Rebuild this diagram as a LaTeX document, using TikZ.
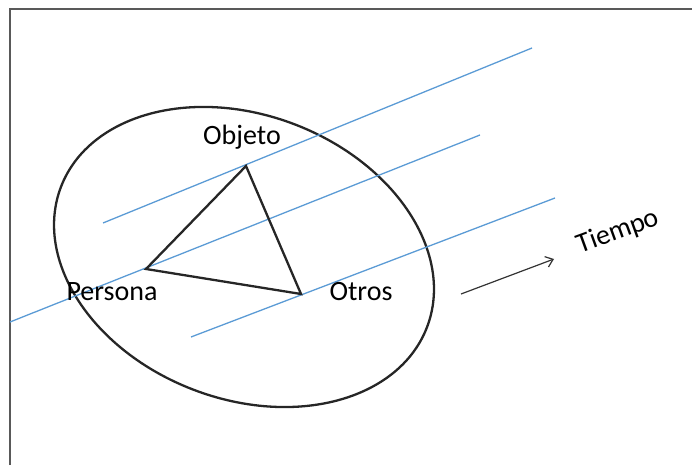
\documentclass[tikz,border=0pt]{standalone}
\usepackage{fontspec}
\setmainfont{Carlito}
\usetikzlibrary{arrows.meta,positioning}
\definecolor{lineblue}{RGB}{91,155,213}

\begin{document}
\begin{tikzpicture}[
  x=1pt, y=1pt,
  >={Straight Barb[length=7pt,width=11pt]},
  timeline/.style={draw=lineblue, line width=1.3pt},
  side/.style={draw=black!85, line width=2.3pt},
  every node/.style={font=\fontsize{28}{32}\selectfont, inner sep=0pt}
]
\useasboundingbox (0,0) rectangle (692,465);
\draw[black!65, line width=1.6pt] (10,0) -- (10,456) -- (692,456);

% circle of the situation
\draw[side] (244,208) ellipse [x radius=196, y radius=142, rotate=-21];

% time lines
\coordinate (a1) at (103,242);  \coordinate (b1) at (532,417);
\coordinate (a2) at (10,143);   \coordinate (b2) at (480,330);
\coordinate (a3) at (191,128);  \coordinate (b3) at (555,267);
\draw[timeline] (a1) -- (b1);
\draw[timeline] (a2) -- (b2);
\draw[timeline] (a3) -- (b3);

% triangle
\coordinate (objeto)  at (246,299);
\coordinate (persona) at (146,196);
\coordinate (otros)   at (301,171);
\draw[side, line join=miter] (objeto) -- (persona) -- (otros) -- cycle;

\node (lobjeto)  at (242,328) {Objeto};
\node (lpersona) at (112,173) {Persona};
\node (lotros)   at (361,173) {Otros};

% time arrow
\coordinate (t0) at (461,171);
\coordinate (t1) at (554,206);
\draw[->, black!80, line width=1.2pt] (t0) -- (t1);
\node[rotate=20] (tiempo) at (618,233) {Tiempo};
\end{tikzpicture}
\end{document}
